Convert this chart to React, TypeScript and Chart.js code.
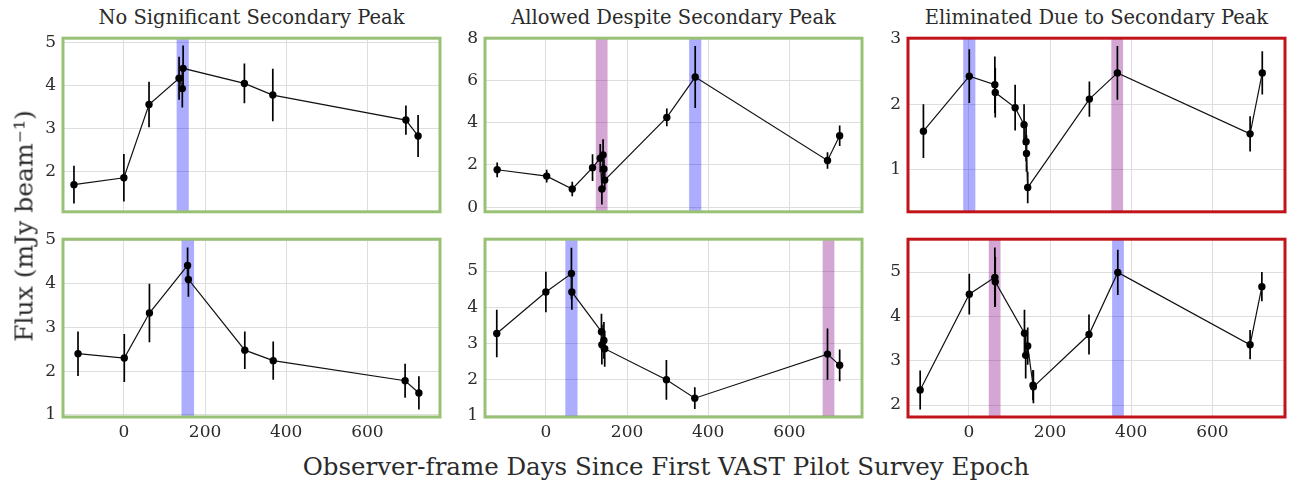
import React, { useEffect, useRef } from "react";
import { Chart, registerables } from "chart.js";

Chart.register(...registerables);

// Shared day axis
const DAY_TICKS = [0, 200, 400, 600];
const DAY_MIN = -150;
const DAY_MAX = 779;

// No significant secondary peak — upper source
const noSecADays = [-123, 0, 62, 136, 144, 146, 297, 367, 695, 725];
const noSecAFlux = [1.7, 1.86, 3.56, 4.17, 3.93, 4.4, 4.05, 3.78, 3.2, 2.83];
const noSecAErr = [0.44, 0.55, 0.53, 0.5, 0.44, 0.53, 0.46, 0.61, 0.34, 0.49];
const noSecATicks = [2, 3, 4, 5];

// No significant secondary peak — lower source
const noSecBDays = [-113, 1, 63, 157, 159, 298, 368, 693, 727];
const noSecBFlux = [2.4, 2.3, 3.33, 4.42, 4.1, 2.48, 2.24, 1.78, 1.5];
const noSecBErr = [0.51, 0.55, 0.67, 0.41, 0.4, 0.43, 0.44, 0.39, 0.38];
const noSecBTicks = [1, 2, 3, 4, 5];

// Allowed despite secondary peak — upper source
const allowedADays = [-120, 2, 65, 115, 134, 138, 141, 143, 145, 298, 368, 694, 724];
const allowedAFlux = [1.77, 1.47, 0.86, 1.87, 2.32, 0.86, 2.47, 1.81, 1.28, 4.25, 6.16, 2.21, 3.38];
const allowedAErr = [0.35, 0.3, 0.34, 0.63, 0.67, 0.74, 0.75, 0.45, 0.45, 0.42, 1.47, 0.39, 0.49];
const allowedATicks = [0, 2, 4, 6, 8];

// Allowed despite secondary peak — lower source
const allowedBDays = [-121, 0, 63, 64, 137, 138, 143, 145, 297, 367, 694, 724];
const allowedBFlux = [3.27, 4.42, 4.93, 4.42, 3.32, 2.96, 3.08, 2.85, 1.99, 1.48, 2.7, 2.39];
const allowedBErr = [0.66, 0.56, 0.71, 0.49, 0.5, 0.55, 0.51, 0.5, 0.55, 0.3, 0.71, 0.44];
const allowedBTicks = [1, 2, 3, 4, 5];

// Eliminated due to secondary peak — upper source
const elimADays = [-112, 1, 64, 65, 114, 136, 141, 142, 145, 297, 366, 693, 723];
const elimAFlux = [1.59, 2.43, 2.3, 2.18, 1.95, 1.69, 1.43, 1.25, 0.73, 2.08, 2.48, 1.55, 2.48];
const elimAErr = [0.41, 0.41, 0.43, 0.38, 0.35, 0.31, 0.3, 0.28, 0.24, 0.27, 0.41, 0.27, 0.33];
const elimATicks = [1, 2, 3];

// Eliminated due to secondary peak — lower source
const elimBDays = [-120, 1, 64, 65, 137, 140, 145, 158, 159, 296, 367, 693, 722];
const elimBFlux = [2.34, 4.5, 4.88, 4.78, 3.62, 3.12, 3.33, 2.45, 2.41, 3.59, 4.99, 3.36, 4.67];
const elimBErr = [0.44, 0.46, 0.67, 0.56, 0.53, 0.52, 0.42, 0.34, 0.37, 0.45, 0.51, 0.33, 0.33];
const elimBTicks = [2, 3, 4, 5];

// Highlighted peak windows (days): primary peak and secondary peak
type Band = { from: number; to: number; kind: "primary" | "secondary" };
const noSecABands: Band[] = [{ from: 130, to: 160, kind: "primary" }];
const noSecBBands: Band[] = [{ from: 142, to: 173, kind: "primary" }];
const allowedABands: Band[] = [
  { from: 123, to: 152, kind: "secondary" },
  { from: 353, to: 383, kind: "primary" },
];
const allowedBBands: Band[] = [
  { from: 48, to: 78, kind: "primary" },
  { from: 682, to: 711, kind: "secondary" },
];
const elimABands: Band[] = [
  { from: -14, to: 16, kind: "primary" },
  { from: 351, to: 380, kind: "secondary" },
];
const elimBBands: Band[] = [
  { from: 49, to: 78, kind: "secondary" },
  { from: 353, to: 382, kind: "primary" },
];

const TITLES = [
  "No Significant Secondary Peak",
  "Allowed Despite Secondary Peak",
  "Eliminated Due to Secondary Peak",
];
const Y_LABEL = "Flux (mJy beam\u207B\u00B9)";
const X_LABEL = "Observer-frame Days Since First VAST Pilot Survey Epoch";

const FONT = "'DejaVu Serif', serif";
const TEXT_COLOR = "#2b2b2b";
const BAND_COLORS = {
  primary: "rgba(0, 0, 255, 0.32)",
  secondary: "rgba(128, 0, 128, 0.35)",
};
const FRAME_COLORS = { ok: "#99c176", bad: "#c0141a" };

// Plot-area placement on the page
const COL_LEFT = [63, 485, 908];
const PLOT_W = 377;
const ROW_TOP = [33, 234];
const ROW_H = [184, 183];
const Y_AXIS_W = 50;
const PAD = 12;
const X_AXIS_H = 30;

type PanelCfg = {
  days: number[];
  flux: number[];
  err: number[];
  bands: Band[];
  yTicks: number[];
  yMin: number;
  yMax: number;
  frame: "ok" | "bad";
  col: number;
  row: number;
};

const PANELS: PanelCfg[] = [
  { days: noSecADays, flux: noSecAFlux, err: noSecAErr, bands: noSecABands, yTicks: noSecATicks, yMin: 1.07, yMax: 5.1, frame: "ok", col: 0, row: 0 },
  { days: allowedADays, flux: allowedAFlux, err: allowedAErr, bands: allowedABands, yTicks: allowedATicks, yMin: -0.22, yMax: 8.0, frame: "ok", col: 1, row: 0 },
  { days: elimADays, flux: elimAFlux, err: elimAErr, bands: elimABands, yTicks: elimATicks, yMin: 0.36, yMax: 3.01, frame: "bad", col: 2, row: 0 },
  { days: noSecBDays, flux: noSecBFlux, err: noSecBErr, bands: noSecBBands, yTicks: noSecBTicks, yMin: 0.95, yMax: 5.02, frame: "ok", col: 0, row: 1 },
  { days: allowedBDays, flux: allowedBFlux, err: allowedBErr, bands: allowedBBands, yTicks: allowedBTicks, yMin: 0.96, yMax: 5.88, frame: "ok", col: 1, row: 1 },
  { days: elimBDays, flux: elimBFlux, err: elimBErr, bands: elimBBands, yTicks: elimBTicks, yMin: 1.73, yMax: 5.74, frame: "bad", col: 2, row: 1 },
];

// Shaded windows and vertical error bars, drawn under the light curve
const underlayPlugin = {
  id: "underlay",
  beforeDatasetsDraw(chart: any, _args: any, opts: any) {
    const { ctx, chartArea: a, scales } = chart;
    const xs = scales.x;
    const ys = scales.y;
    ctx.save();
    ctx.beginPath();
    ctx.rect(a.left, a.top, a.right - a.left, a.bottom - a.top);
    ctx.clip();
    for (const b of opts.bands as Band[]) {
      const x0 = xs.getPixelForValue(b.from);
      const x1 = xs.getPixelForValue(b.to);
      ctx.fillStyle = BAND_COLORS[b.kind];
      ctx.fillRect(x0, a.top, x1 - x0, a.bottom - a.top);
    }
    ctx.strokeStyle = "#000";
    ctx.lineWidth = 1.7;
    const days: number[] = opts.days;
    const flux: number[] = opts.flux;
    const err: number[] = opts.err;
    days.forEach((d, i) => {
      const x = xs.getPixelForValue(d);
      ctx.beginPath();
      ctx.moveTo(x, ys.getPixelForValue(flux[i] - err[i]));
      ctx.lineTo(x, ys.getPixelForValue(flux[i] + err[i]));
      ctx.stroke();
    });
    ctx.restore();
  },
};

// Coloured frame around the plot area
const framePlugin = {
  id: "frame",
  afterDraw(chart: any, _args: any, opts: any) {
    const { ctx, chartArea: a } = chart;
    ctx.save();
    ctx.strokeStyle = opts.color;
    ctx.lineWidth = 3;
    ctx.strokeRect(a.left, a.top, a.right - a.left, a.bottom - a.top);
    ctx.restore();
  },
};

function Panel({ cfg }: { cfg: PanelCfg }) {
  const ref = useRef<HTMLCanvasElement>(null);
  const showX = cfg.row === 1;
  const width = Y_AXIS_W + PLOT_W + PAD;
  const height = PAD + ROW_H[cfg.row] + (showX ? X_AXIS_H : PAD);

  useEffect(() => {
    const tickFont = { family: FONT, size: 17 };
    const chart = new Chart(ref.current as HTMLCanvasElement, {
      type: "line",
      data: {
        datasets: [
          {
            data: cfg.days.map((d, i) => ({ x: d, y: cfg.flux[i] })),
            borderColor: "#111",
            borderWidth: 1.2,
            pointRadius: 3.7,
            pointBackgroundColor: "#000",
            pointBorderWidth: 0,
            pointHoverRadius: 3.7,
            tension: 0,
            fill: false,
          },
        ],
      },
      options: {
        responsive: false,
        animation: false,
        events: [],
        layout: { padding: { left: 0, right: PAD, top: PAD, bottom: showX ? 0 : PAD } },
        plugins: {
          legend: { display: false },
          tooltip: { enabled: false },
          underlay: { bands: cfg.bands, days: cfg.days, flux: cfg.flux, err: cfg.err },
          frame: { color: FRAME_COLORS[cfg.frame] },
        } as any,
        scales: {
          x: {
            type: "linear",
            min: DAY_MIN,
            max: DAY_MAX,
            afterBuildTicks: (s: any) => {
              s.ticks = DAY_TICKS.map((v) => ({ value: v }));
            },
            afterFit: (s: any) => {
              s.height = showX ? X_AXIS_H : 0;
            },
            grid: { color: "#dedede", lineWidth: 1, drawTicks: false },
            border: { display: false },
            ticks: {
              display: showX,
              padding: 5,
              color: TEXT_COLOR,
              font: tickFont,
              maxRotation: 0,
              callback: (v: any) => String(v),
            },
          },
          y: {
            type: "linear",
            min: cfg.yMin,
            max: cfg.yMax,
            afterBuildTicks: (s: any) => {
              s.ticks = cfg.yTicks.map((v) => ({ value: v }));
            },
            afterFit: (s: any) => {
              s.width = Y_AXIS_W;
            },
            grid: { color: "#dedede", lineWidth: 1, drawTicks: false },
            border: { display: false },
            ticks: {
              padding: 7,
              color: TEXT_COLOR,
              font: tickFont,
              callback: (v: any) => String(v),
            },
          },
        },
      },
      plugins: [underlayPlugin, framePlugin],
    });
    return () => chart.destroy();
  }, [cfg]);

  return (
    <canvas
      ref={ref}
      width={width}
      height={height}
      style={{
        position: "absolute",
        left: COL_LEFT[cfg.col] - Y_AXIS_W,
        top: ROW_TOP[cfg.row] - PAD,
        width,
        height,
      }}
    />
  );
}

export default function App() {
  return (
    <div
      style={{
        position: "absolute",
        left: 0,
        top: 0,
        width: 1292,
        height: 483,
        background: "#fff",
        overflow: "hidden",
        fontFamily: FONT,
        color: TEXT_COLOR,
      }}
    >
      {TITLES.map((t, i) => (
        <div
          key={t}
          style={{
            position: "absolute",
            left: COL_LEFT[i] + PLOT_W / 2,
            top: 17,
            transform: "translate(-50%, -50%)",
            whiteSpace: "nowrap",
            fontSize: 19.5,
          }}
        >
          {t}
        </div>
      ))}
      {PANELS.map((p, i) => (
        <Panel key={i} cfg={p} />
      ))}
      <div
        style={{
          position: "absolute",
          left: 24,
          top: 226,
          transform: "translate(-50%, -50%) rotate(-90deg)",
          whiteSpace: "nowrap",
          fontSize: 25,
        }}
      >
        {Y_LABEL}
      </div>
      <div
        style={{
          position: "absolute",
          left: 666,
          top: 466,
          transform: "translate(-50%, -50%)",
          whiteSpace: "nowrap",
          fontSize: 24.5,
        }}
      >
        {X_LABEL}
      </div>
    </div>
  );
}
